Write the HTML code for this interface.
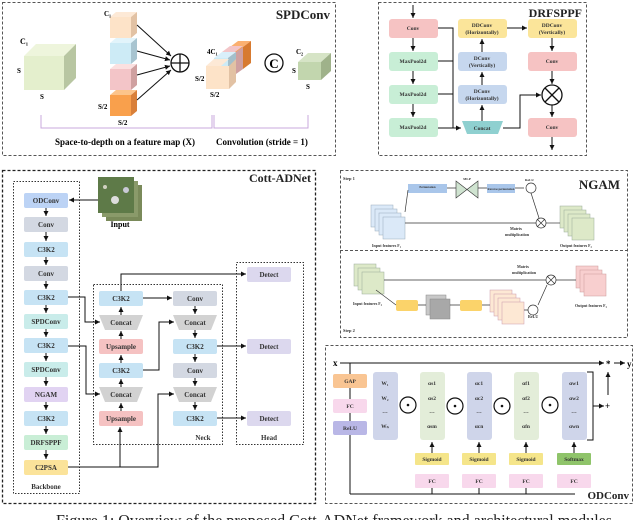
<!DOCTYPE html>
<html><head><meta charset="utf-8"><style>
html,body{margin:0;padding:0;background:#fff;width:640px;height:520px;overflow:hidden}
svg{display:block;font-family:"Liberation Serif",serif}
.b{font-weight:bold}
</style></head><body>
<svg width="640" height="520" viewBox="0 0 640 520" xmlns="http://www.w3.org/2000/svg">
<defs>
<marker id="a" markerWidth="6" markerHeight="6" refX="5" refY="3" orient="auto" markerUnits="userSpaceOnUse"><path d="M0,0.5 L5,3 L0,5.5z" fill="#111"/></marker>
</defs>
<g fill="none" stroke="#555" stroke-width="1" stroke-dasharray="3,2">
<rect x="2.5" y="2.5" width="333" height="153"/>
<rect x="378.5" y="2.5" width="208" height="153"/>
<rect x="2.5" y="170.5" width="313" height="333" stroke-width="1.3" stroke="#222"/>
<rect x="340.5" y="170.5" width="287" height="167"/>
<line x1="340" y1="250.5" x2="628" y2="250.5"/>
<rect x="325.5" y="345.5" width="307" height="158"/>
</g>
<g fill="none" stroke="#333" stroke-width="1" stroke-dasharray="1.5,1.5">
<rect x="13.5" y="181.5" width="66" height="312"/>
<rect x="93.5" y="284.5" width="129" height="160"/>
<rect x="236.5" y="262.5" width="67" height="182"/>
</g>

<!-- SPDConv -->
<text x="330" y="19" class="b" font-size="13" fill="#222" text-anchor="end">SPDConv</text>
<g>
<polygon points="24,56 36,44 76,44 64,56" fill="#eef5dc"/>
<polygon points="64,56 76,44 76,78 64,90" fill="#b8c6a2"/>
<rect x="24" y="56" width="40" height="34" fill="#e4efcd"/>
<text x="20" y="44" font-size="8" class="b">C₁</text>
<text x="17" y="73" font-size="7" class="b">S</text>
<text x="40" y="99" font-size="7" class="b">S</text>
<g>
<polygon points="110,17 116,12 137,12 131,17" fill="#fde9d6"/><polygon points="131,17 137,12 137,33 131,38" fill="#e2c2a4"/><rect x="110" y="17" width="21" height="21" fill="#fde3c8"/>
<polygon points="110,43 116,38 137,38 131,43" fill="#e2f4fb"/><polygon points="131,43 137,38 137,59 131,64" fill="#a8c4d0"/><rect x="110" y="43" width="21" height="21" fill="#cdebf6"/>
<polygon points="110,69 116,64 137,64 131,69" fill="#fbe0e0"/><polygon points="131,69 137,64 137,85 131,90" fill="#cfa0a0"/><rect x="110" y="69" width="21" height="21" fill="#f3c5c8"/>
<polygon points="110,95 116,90 137,90 131,95" fill="#fcc48a"/><polygon points="131,95 137,90 137,111 131,116" fill="#d9803a"/><rect x="110" y="95" width="21" height="21" fill="#f9a04c"/>
</g>
<text x="104" y="16" font-size="7" class="b">C₁</text>
<text x="98" y="109" font-size="7" class="b">S/2</text>
<text x="118" y="125" font-size="7" class="b">S/2</text>
<g stroke="#111" stroke-width="1" marker-end="url(#a)">
<line x1="137" y1="25" x2="171" y2="56"/><line x1="137" y1="51" x2="170" y2="60"/><line x1="137" y1="75" x2="170" y2="66"/><line x1="137" y1="100" x2="171" y2="70"/>
</g>
<circle cx="180" cy="63" r="9" fill="#fff" stroke="#111" stroke-width="1.3"/>
<line x1="171" y1="63" x2="189" y2="63" stroke="#111" stroke-width="1.3"/><line x1="180" y1="54" x2="180" y2="72" stroke="#111" stroke-width="1.3"/>
<polygon points="230,47 238,41 251,41 243,47" fill="#fbb070"/><polygon points="243,47 251,41 251,63 243,69" fill="#d77a30"/><rect x="229" y="47" width="14" height="22" fill="#f9a04c"/>
<polygon points="222,52 230,46 243,46 235,52" fill="#f3c5c8"/><rect x="222" y="52" width="14" height="22" fill="#f3c5c8"/><polygon points="236,52 243,47 243,69 236,74" fill="#cfa0a0"/>
<polygon points="214,58 222,52 236,52 228,58" fill="#d9effa"/><rect x="214" y="58" width="14" height="22" fill="#cdebf6"/><polygon points="228,58 236,52 236,74 228,80" fill="#a3bfcb"/>
<polygon points="206,66 214,59 229,59 221,66" fill="#fde9d6"/><rect x="206" y="66" width="23" height="23" fill="#fde3c8"/><polygon points="229,66 236,59 236,82 229,89" fill="#e2c2a4"/>
<text x="207" y="54" font-size="7" class="b">4C₁</text>
<text x="195" y="81" font-size="7" class="b">S/2</text>
<text x="210" y="97" font-size="7" class="b">S/2</text>
<circle cx="274" cy="63" r="9" fill="#fff" stroke="#111" stroke-width="1.3"/>
<text x="274" y="68" font-size="13" class="b" text-anchor="middle">C</text>
<polygon points="298,62 308,53 331,53 321,62" fill="#d6e4c6"/><polygon points="321,62 331,53 331,71 321,80" fill="#9fb28a"/><rect x="298" y="62" width="23" height="18" fill="#c2d6ae"/>
<text x="296" y="54" font-size="7" class="b">C₂</text>
<text x="292" y="73" font-size="7" class="b">S</text>
<text x="306" y="89" font-size="7" class="b">S</text>
<path d="M41,115 V128 H212 V115 M214,115 V128 H308 V115" fill="none" stroke="#c9a8dc" stroke-width="1"/>
<text x="125" y="145" font-size="9" class="b" text-anchor="middle">Space-to-depth on a feature map (X)</text>
<text x="262" y="145" font-size="9" class="b" text-anchor="middle">Convolution (stride = 1)</text>
</g>

<!-- DRFSPPF -->
<text x="582" y="17" class="b" font-size="12" fill="#222" text-anchor="end">DRFSPPF</text>
<g font-size="5.5" class="b" text-anchor="middle" fill="#333">
<rect x="389" y="19" width="49" height="19" rx="3" fill="#f6c3c3"/><text x="413" y="30">Conv</text>
<rect x="389" y="52" width="49" height="19" rx="3" fill="#c8eed6"/><text x="413" y="63">MaxPool2d</text>
<rect x="389" y="85" width="49" height="19" rx="3" fill="#c8eed6"/><text x="413" y="96">MaxPool2d</text>
<rect x="389" y="118" width="49" height="19" rx="3" fill="#c8eed6"/><text x="413" y="129">MaxPool2d</text>
<rect x="458" y="19" width="49" height="19" rx="3" fill="#fbe59a"/><text x="482" y="27">DDConv</text><text x="482" y="34">(Horizontally)</text>
<rect x="458" y="52" width="49" height="19" rx="3" fill="#c6d7ee"/><text x="482" y="60">DConv</text><text x="482" y="67">(Vertically)</text>
<rect x="458" y="85" width="49" height="19" rx="3" fill="#c6d7ee"/><text x="482" y="93">DConv</text><text x="482" y="100">(Horizontally)</text>
<polygon points="462,121 503,121 498,134 467,134" fill="#8fd0d0"/><text x="482" y="130">Concat</text>
<rect x="528" y="19" width="49" height="19" rx="3" fill="#fbe59a"/><text x="552" y="27">DDConv</text><text x="552" y="34">(Vertically)</text>
<rect x="528" y="52" width="49" height="19" rx="3" fill="#f6c3c3"/><text x="552" y="63">Conv</text>
<rect x="528" y="118" width="49" height="19" rx="3" fill="#f6c3c3"/><text x="552" y="129">Conv</text>
</g>
<g stroke="#111" stroke-width="1" fill="none">
<line x1="413" y1="5" x2="413" y2="18" marker-end="url(#a)"/>
<line x1="413" y1="38" x2="413" y2="51" marker-end="url(#a)"/>
<line x1="413" y1="71" x2="413" y2="84" marker-end="url(#a)"/>
<line x1="413" y1="104" x2="413" y2="117" marker-end="url(#a)"/>
<path d="M438,28 H453 V128 M438,61 H453 M438,94 H453 M438,128 H461" marker-end="url(#a)"/>
<line x1="482" y1="121" x2="482" y2="105" marker-end="url(#a)"/>
<line x1="482" y1="85" x2="482" y2="72" marker-end="url(#a)"/>
<line x1="482" y1="52" x2="482" y2="39" marker-end="url(#a)"/>
<line x1="507" y1="28" x2="527" y2="28" marker-end="url(#a)"/>
<line x1="552" y1="38" x2="552" y2="51" marker-end="url(#a)"/>
<line x1="552" y1="71" x2="552" y2="84" marker-end="url(#a)"/>
<path d="M503,128 H520 V95 H541" marker-end="url(#a)"/>
<line x1="552" y1="105" x2="552" y2="117" marker-end="url(#a)"/>
<line x1="552" y1="137" x2="552" y2="150" marker-end="url(#a)"/>
<circle cx="552" cy="95" r="10" stroke-width="1.3" fill="#fff"/>
<line x1="545" y1="88" x2="559" y2="102" stroke-width="1.3"/><line x1="559" y1="88" x2="545" y2="102" stroke-width="1.3"/>
</g>

<!-- Cott-ADNet -->
<text x="311" y="182" class="b" font-size="12" fill="#222" text-anchor="end">Cott-ADNet</text>
<g>
<rect x="106" y="185" width="36" height="36" fill="#7a8a5a"/>
<rect x="102" y="181" width="36" height="36" fill="#8a9a6a"/>
<rect x="98" y="177" width="36" height="36" fill="#5e7a48"/>
<circle cx="115" cy="200" r="4" fill="#ddd"/><circle cx="126" cy="190" r="3" fill="#c9c9d6"/><circle cx="105" cy="187" r="2" fill="#d0d0c0"/>
</g>
<text x="120" y="227" font-size="8" class="b" text-anchor="middle">Input</text>
<g font-size="7" class="b" text-anchor="middle" fill="#333">
<rect x="24" y="193" width="44" height="15" rx="2" fill="#bcd3f5"/><text x="46" y="203">ODConv</text>
<rect x="24" y="217" width="44" height="15" rx="2" fill="#d3d8e2"/><text x="46" y="227">Conv</text>
<rect x="24" y="242" width="44" height="15" rx="2" fill="#c6e3f4"/><text x="46" y="252">C3K2</text>
<rect x="24" y="266" width="44" height="15" rx="2" fill="#d3d8e2"/><text x="46" y="276">Conv</text>
<rect x="24" y="290" width="44" height="15" rx="2" fill="#c6e3f4"/><text x="46" y="300">C3K2</text>
<rect x="24" y="314" width="44" height="15" rx="2" fill="#c9ecea"/><text x="46" y="324">SPDConv</text>
<rect x="24" y="338" width="44" height="15" rx="2" fill="#c6e3f4"/><text x="46" y="348">C3K2</text>
<rect x="24" y="362" width="44" height="15" rx="2" fill="#c9ecea"/><text x="46" y="372">SPDConv</text>
<rect x="24" y="387" width="44" height="15" rx="2" fill="#e1d3f2"/><text x="46" y="397">NGAM</text>
<rect x="24" y="411" width="44" height="15" rx="2" fill="#c6e3f4"/><text x="46" y="421">C3K2</text>
<rect x="24" y="435" width="44" height="15" rx="2" fill="#c9eed6"/><text x="46" y="445">DRFSPPF</text>
<rect x="24" y="460" width="44" height="15" rx="2" fill="#fbe39a"/><text x="46" y="470">C2PSA</text>
<text x="46" y="489">Backbone</text>
<rect x="99" y="291" width="44" height="15" rx="2" fill="#c6e3f4"/><text x="121" y="301">C3K2</text>
<polygon points="99,315 143,315 137,330 105,330" fill="#d2d2d2"/><text x="121" y="325">Concat</text>
<rect x="99" y="339" width="44" height="15" rx="2" fill="#f5c2c2"/><text x="121" y="349">Upsample</text>
<rect x="99" y="363" width="44" height="15" rx="2" fill="#c6e3f4"/><text x="121" y="373">C3K2</text>
<polygon points="99,387 143,387 137,402 105,402" fill="#d2d2d2"/><text x="121" y="397">Concat</text>
<rect x="99" y="411" width="44" height="15" rx="2" fill="#f5c2c2"/><text x="121" y="421">Upsample</text>
<rect x="173" y="291" width="44" height="15" rx="2" fill="#d3d8e2"/><text x="195" y="301">Conv</text>
<polygon points="173,315 217,315 211,330 179,330" fill="#d2d2d2"/><text x="195" y="325">Concat</text>
<rect x="173" y="339" width="44" height="15" rx="2" fill="#c6e3f4"/><text x="195" y="349">C3K2</text>
<rect x="173" y="363" width="44" height="15" rx="2" fill="#d3d8e2"/><text x="195" y="373">Conv</text>
<polygon points="173,387 217,387 211,402 179,402" fill="#d2d2d2"/><text x="195" y="397">Concat</text>
<rect x="173" y="411" width="44" height="15" rx="2" fill="#c6e3f4"/><text x="195" y="421">C3K2</text>
<text x="203" y="440">Neck</text>
<rect x="247" y="267" width="44" height="15" rx="2" fill="#dcd8ee"/><text x="269" y="277">Detect</text>
<rect x="247" y="339" width="44" height="15" rx="2" fill="#dcd8ee"/><text x="269" y="349">Detect</text>
<rect x="247" y="411" width="44" height="15" rx="2" fill="#dcd8ee"/><text x="269" y="421">Detect</text>
<text x="269" y="440">Head</text>
</g>
<g stroke="#111" stroke-width="1" fill="none">
<line x1="98" y1="200" x2="69" y2="200" marker-end="url(#a)"/>
<line x1="46" y1="208" x2="46" y2="216" marker-end="url(#a)"/>
<line x1="46" y1="232" x2="46" y2="241" marker-end="url(#a)"/>
<line x1="46" y1="257" x2="46" y2="265" marker-end="url(#a)"/>
<line x1="46" y1="281" x2="46" y2="289" marker-end="url(#a)"/>
<line x1="46" y1="305" x2="46" y2="313" marker-end="url(#a)"/>
<line x1="46" y1="329" x2="46" y2="337" marker-end="url(#a)"/>
<line x1="46" y1="353" x2="46" y2="361" marker-end="url(#a)"/>
<line x1="46" y1="377" x2="46" y2="386" marker-end="url(#a)"/>
<line x1="46" y1="402" x2="46" y2="410" marker-end="url(#a)"/>
<line x1="46" y1="426" x2="46" y2="434" marker-end="url(#a)"/>
<line x1="46" y1="450" x2="46" y2="459" marker-end="url(#a)"/>
<path d="M68,297 H85 V322 H100" marker-end="url(#a)"/>
<path d="M68,346 H86 V394 H100" marker-end="url(#a)"/>
<path d="M68,467 H158 V394 H174" marker-end="url(#a)"/>
<path d="M120,467 V427" marker-end="url(#a)"/>
<line x1="121" y1="411" x2="121" y2="403" marker-end="url(#a)"/>
<line x1="121" y1="387" x2="121" y2="379" marker-end="url(#a)"/>
<line x1="121" y1="363" x2="121" y2="355" marker-end="url(#a)"/>
<line x1="121" y1="339" x2="121" y2="331" marker-end="url(#a)"/>
<line x1="121" y1="315" x2="121" y2="307" marker-end="url(#a)"/>
<path d="M143,370 H159 V322 H174" marker-end="url(#a)"/>
<line x1="143" y1="298" x2="172" y2="298" marker-end="url(#a)"/>
<path d="M121,291 V274 H246" marker-end="url(#a)"/>
<line x1="195" y1="306" x2="195" y2="314" marker-end="url(#a)"/>
<line x1="195" y1="330" x2="195" y2="338" marker-end="url(#a)"/>
<line x1="195" y1="354" x2="195" y2="362" marker-end="url(#a)"/>
<line x1="195" y1="378" x2="195" y2="386" marker-end="url(#a)"/>
<line x1="195" y1="402" x2="195" y2="410" marker-end="url(#a)"/>
<line x1="217" y1="346" x2="246" y2="346" marker-end="url(#a)"/>
<line x1="217" y1="418" x2="246" y2="418" marker-end="url(#a)"/>
</g>

<!-- NGAM -->
<text x="620" y="189" class="b" font-size="13" fill="#222" text-anchor="end">NGAM</text>
<g font-size="4.5" class="b" fill="#333">
<text x="343" y="180">Step 1</text>
<text x="343" y="332">Step 2</text>
<rect x="408" y="184" width="39" height="9" fill="#a9c6ea"/>
<text x="427.5" y="188" text-anchor="middle" font-size="3">Permutation</text>
<polygon points="456,181 456,198 478,181 478,198" fill="#cfe3d0" stroke="#333" stroke-width="0.6"/>
<text x="467" y="180" text-anchor="middle" font-size="3.5">MLP</text>
<rect x="487" y="184" width="28" height="9" fill="#a9c6ea"/>
<text x="501" y="190" text-anchor="middle" font-size="3">Reverse permutation</text>
<text x="525" y="181" font-size="3.5">ReLU</text>
<text x="372" y="247" font-size="4">Input features F₁</text>
<text x="560" y="247" font-size="4">Output features F₂</text>
<text x="510" y="230" font-size="4">Matrix</text><text x="505" y="236" font-size="4">multiplication</text>
<text x="353" y="305" font-size="4">Input features F₂</text>
<text x="575" y="307" font-size="4">Output features F₃</text>
<text x="517" y="268" font-size="4">Matrix</text><text x="512" y="274" font-size="4">multiplication</text>
<text x="528" y="318" font-size="4">ReLU</text>
</g>
<g>
<rect x="371" y="205" width="22" height="22" fill="#dbe9f8" stroke="#9ab" stroke-width="0.5"/>
<rect x="375" y="209" width="22" height="22" fill="#dbe9f8" stroke="#9ab" stroke-width="0.5"/>
<rect x="379" y="213" width="22" height="22" fill="#dbe9f8" stroke="#9ab" stroke-width="0.5"/>
<rect x="383" y="217" width="22" height="22" fill="#dbe9f8" stroke="#9ab" stroke-width="0.5"/>
<rect x="560" y="206" width="22" height="22" fill="#dde9c8" stroke="#9a9" stroke-width="0.5"/>
<rect x="564" y="210" width="22" height="22" fill="#dde9c8" stroke="#9a9" stroke-width="0.5"/>
<rect x="568" y="214" width="22" height="22" fill="#dde9c8" stroke="#9a9" stroke-width="0.5"/>
<rect x="572" y="218" width="22" height="22" fill="#dde9c8" stroke="#9a9" stroke-width="0.5"/>
<rect x="354" y="264" width="22" height="22" fill="#dde9c8" stroke="#9a9" stroke-width="0.5"/>
<rect x="358" y="268" width="22" height="22" fill="#dde9c8" stroke="#9a9" stroke-width="0.5"/>
<rect x="362" y="272" width="22" height="22" fill="#dde9c8" stroke="#9a9" stroke-width="0.5"/>
<rect x="576" y="266" width="22" height="22" fill="#f8cfcf" stroke="#c99" stroke-width="0.5"/>
<rect x="580" y="270" width="22" height="22" fill="#f8cfcf" stroke="#c99" stroke-width="0.5"/>
<rect x="584" y="274" width="22" height="22" fill="#f8cfcf" stroke="#c99" stroke-width="0.5"/>
<rect x="396" y="300" width="22" height="11" rx="2" fill="#fbd36a"/>
<rect x="426" y="295" width="20" height="20" fill="#c8c8c8" stroke="#888" stroke-width="0.5"/>
<rect x="430" y="299" width="20" height="20" fill="#a8a8a8" stroke="#888" stroke-width="0.5"/>
<rect x="460" y="300" width="22" height="11" rx="2" fill="#fbd36a"/>
<rect x="490" y="290" width="22" height="22" fill="#fde8d4" stroke="#c9a" stroke-width="0.5"/>
<rect x="494" y="294" width="22" height="22" fill="#fde8d4" stroke="#c9a" stroke-width="0.5"/>
<rect x="498" y="298" width="22" height="22" fill="#fde8d4" stroke="#c9a" stroke-width="0.5"/>
<rect x="502" y="302" width="22" height="22" fill="#fde8d4" stroke="#c9a" stroke-width="0.5"/>
</g>
<g stroke="#333" stroke-width="0.7" fill="none">
<path d="M405,212 L408,190"/><path d="M447,188 H456 M478,188 H487 M515,188 H524"/>
<line x1="405" y1="223" x2="536" y2="223"/><line x1="546" y1="223" x2="560" y2="223"/>
<path d="M531,193 L539,218"/>
<circle cx="531" cy="188" r="5" fill="#fff"/><circle cx="541" cy="223" r="5" fill="#fff"/>
<path d="M537,219 L545,227 M545,219 L537,227"/>
<line x1="384" y1="280" x2="546" y2="280"/><line x1="556" y1="280" x2="576" y2="280"/>
<path d="M376,290 L396,305 M418,305 H426 M450,305 H460 M482,305 H490 M524,310 H528 M538,305 L547,285"/>
<circle cx="551" cy="280" r="5" fill="#fff"/><path d="M547,276 L555,284 M555,276 L547,284"/>
<circle cx="533" cy="310" r="5" fill="#fff"/>
</g>

<!-- ODConv -->
<text x="629" y="499" class="b" font-size="11" fill="#222" text-anchor="end">ODConv</text>
<text x="333" y="366" font-size="9" class="b">x</text>
<text x="606" y="367" font-size="9" class="b">*</text>
<text x="627" y="367" font-size="9" class="b">y</text>
<g stroke="#111" stroke-width="1" fill="none">
<line x1="340" y1="363" x2="604" y2="363" marker-end="url(#a)"/>
<line x1="614" y1="363" x2="625" y2="363" marker-end="url(#a)"/>
<line x1="350" y1="363" x2="350" y2="494"/>
<line x1="350" y1="494" x2="575" y2="494"/>
<line x1="432" y1="494" x2="432" y2="488"/><line x1="479" y1="494" x2="479" y2="488"/><line x1="526" y1="494" x2="526" y2="488"/>
<line x1="432" y1="453" x2="432" y2="442" marker-end="url(#a)"/>
<line x1="479" y1="453" x2="479" y2="442" marker-end="url(#a)"/>
<line x1="526" y1="453" x2="526" y2="442" marker-end="url(#a)"/>
<line x1="574" y1="453" x2="574" y2="442" marker-end="url(#a)"/>
<path d="M587,372 H593 V440 H587 M593,406 H604" marker-end="url(#a)"/>
<line x1="608" y1="395" x2="608" y2="372" marker-end="url(#a)"/>
</g>
<text x="605" y="409" font-size="9" class="b">+</text>
<g font-size="5.5" class="b" text-anchor="middle" fill="#333">
<rect x="333" y="374" width="34" height="14" rx="2" fill="#f9c593"/><text x="350" y="383">GAP</text>
<rect x="333" y="399" width="34" height="14" rx="2" fill="#f8d8ec"/><text x="350" y="408">FC</text>
<rect x="333" y="421" width="34" height="14" rx="2" fill="#b9b7e6"/><text x="350" y="430">ReLU</text>
<rect x="373" y="372" width="25" height="68" rx="3" fill="#cfd5ea"/>
<text x="385" y="385">W₁</text><text x="385" y="400">W₂</text><text x="385" y="413">…</text><text x="385" y="428">Wₙ</text>
<rect x="420" y="372" width="25" height="68" rx="3" fill="#e3edd9"/>
<text x="432" y="385">αs1</text><text x="432" y="400">αs2</text><text x="432" y="413">…</text><text x="432" y="428">αsm</text>
<rect x="467" y="372" width="25" height="68" rx="3" fill="#cfd5ea"/>
<text x="479" y="385">αc1</text><text x="479" y="400">αc2</text><text x="479" y="413">…</text><text x="479" y="428">αcn</text>
<rect x="514" y="372" width="25" height="68" rx="3" fill="#e3edd9"/>
<text x="526" y="385">αf1</text><text x="526" y="400">αf2</text><text x="526" y="413">…</text><text x="526" y="428">αfn</text>
<rect x="562" y="372" width="25" height="68" rx="3" fill="#cfd5ea"/>
<text x="574" y="385">αw1</text><text x="574" y="400">αw2</text><text x="574" y="413">…</text><text x="574" y="428">αwn</text>
<rect x="415" y="453" width="34" height="12" rx="1" fill="#f5e58a"/><text x="432" y="461">Sigmoid</text>
<rect x="462" y="453" width="34" height="12" rx="1" fill="#f5e58a"/><text x="479" y="461">Sigmoid</text>
<rect x="509" y="453" width="34" height="12" rx="1" fill="#f5e58a"/><text x="526" y="461">Sigmoid</text>
<rect x="557" y="453" width="34" height="12" rx="1" fill="#8fc46a"/><text x="574" y="461">Softmax</text>
<rect x="415" y="474" width="34" height="14" rx="1" fill="#f8d8ec"/><text x="432" y="483">FC</text>
<rect x="462" y="474" width="34" height="14" rx="1" fill="#f8d8ec"/><text x="479" y="483">FC</text>
<rect x="509" y="474" width="34" height="14" rx="1" fill="#f8d8ec"/><text x="526" y="483">FC</text>
<rect x="557" y="474" width="34" height="14" rx="1" fill="#f8d8ec"/><text x="574" y="483">FC</text>
</g>
<g fill="#fff" stroke="#111" stroke-width="1.2">
<circle cx="408" cy="405" r="8"/><circle cx="455" cy="406" r="8"/><circle cx="502" cy="406" r="8"/><circle cx="550" cy="405" r="8"/>
</g>
<g fill="#111"><circle cx="408" cy="405" r="1.3"/><circle cx="455" cy="406" r="1.3"/><circle cx="502" cy="406" r="1.3"/><circle cx="550" cy="405" r="1.3"/></g>

<text x="56" y="526" font-size="17" fill="#222" textLength="560" lengthAdjust="spacingAndGlyphs">Figure 1: Overview of the proposed Cott-ADNet framework and architectural modules.</text>
</svg>
</body></html>
